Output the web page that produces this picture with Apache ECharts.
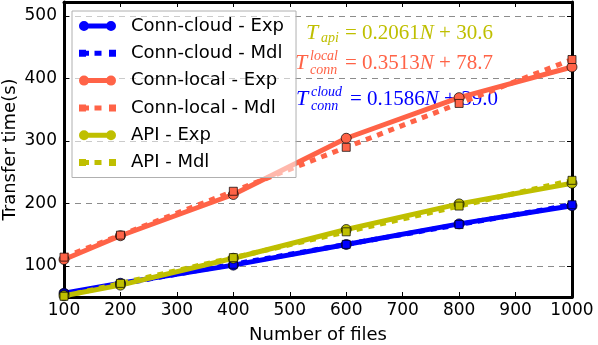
<!DOCTYPE html>
<html>
<head>
<meta charset="utf-8">
<script src="https://cdn.jsdelivr.net/npm/echarts@6/dist/echarts.min.js"></script>
<style>
html, body { margin: 0; padding: 0; background: #fff; }
#chart { width: 598px; height: 345px; }
</style>
</head>
<body>
<div id="chart"></div>
<script>
// number of files on the x axis
var files = [100, 200, 400, 600, 800, 1000];

// measured (Exp) and model (Mdl) transfer times, seconds
var cloudExp = [56, 72, 101, 134, 167, 196];
var cloudMdl = [54.9, 70.7, 102.4, 134.2, 165.9, 197.6];
var localExp = [110, 148, 214, 304, 369, 418];
var localMdl = [113.8, 149.0, 219.2, 289.5, 359.7, 430.0];
var apiExp = [52, 69, 112, 158, 199, 232];
var apiMdl = [51.2, 71.8, 113.0, 154.3, 195.5, 236.7];

// axis ranges
var xMin = 100, xMax = 1000, xStep = 100;
var yMin = 50, yMax = 522, yStep = 100;

var BLUE = '#0000ff';
var SALMON = '#ff6347';
var OLIVE = '#bfbf00';
var SANS = 'DejaVu Sans';
var SERIF = 'Liberation Serif';

// legend icons: line with two markers (plus a blank tail to push the text right)
var expIcon = 'path://M0,5A5,5 0 1,1 10,5A5,5 0 1,1 0,5Z' +
  'M27,5A5,5 0 1,1 37,5A5,5 0 1,1 27,5Z' +
  'M9,2.5L28,2.5L28,7.5L9,7.5Z M47,0L47,0 M0,10L0,10';
var mdlIcon = 'path://M0,1.5L7,1.5L7,8.5L0,8.5Z M7,2.5L10,2.5L10,7.5L7,7.5Z' +
  'M15.5,2.5L22.5,2.5L22.5,7.5L15.5,7.5Z M30,1.5L37,1.5L37,8.5L30,8.5Z' +
  'M47,0L47,0 M0,10L0,10';

function pairs(vals) {
  return files.map(function (f, i) { return [f, vals[i]]; });
}

function expSeries(name, color, vals) {
  return {
    name: name, type: 'line', data: pairs(vals),
    symbol: 'circle', symbolSize: 10,
    lineStyle: { color: color, width: 5 },
    itemStyle: { color: color, borderColor: 'rgba(0,0,0,0.7)', borderWidth: 1 },
    emphasis: { disabled: true },
    z: 3
  };
}

function mdlSeries(name, color, vals) {
  return {
    name: name, type: 'line', data: pairs(vals),
    symbol: 'rect', symbolSize: 8,
    lineStyle: { color: color, width: 5, type: [6, 6] },
    itemStyle: { color: color, borderColor: 'rgba(0,0,0,0.7)', borderWidth: 1 },
    emphasis: { disabled: true },
    z: 3
  };
}

function eqText(x, y, color, sup, sub, mainX, coef, cons) {
  var kids = [
    { type: 'text', x: 0, y: 0, style: { text: 'T', font: 'italic 22px "' + SERIF + '"', fill: color, verticalAlign: 'middle' } },
    { type: 'text', x: 15, y: sup ? 7 : 5.5, style: { text: sub, font: 'italic 14px "' + SERIF + '"', fill: color, verticalAlign: 'middle' } },
    { type: 'text', x: mainX, y: 0, style: {
      text: '= ' + coef + '{i|N} + ' + cons,
      font: '21px "' + SERIF + '"', fill: color, verticalAlign: 'middle',
      rich: { i: { fontStyle: 'italic', fontFamily: SERIF, fontSize: 21, fill: color } }
    } }
  ];
  if (sup) {
    kids.push({ type: 'text', x: 15, y: -7, style: { text: sup, font: 'italic 14px "' + SERIF + '"', fill: color, verticalAlign: 'middle' } });
  }
  return { type: 'group', x: x, y: y, z: 1, children: kids };
}

var chart = echarts.init(document.getElementById('chart'), null, { renderer: 'canvas' });

var axisLineStyle = { show: true, onZero: false, lineStyle: { color: '#000', width: 3 } };
var tickStyle = { show: true, inside: true, length: 5, lineStyle: { color: '#000', width: 1 } };
var labelStyle = { fontFamily: SANS, fontSize: 17, color: '#000', formatter: function (v) { return String(v); } };

var option = {
  animation: false,
  backgroundColor: '#fff',
  grid: { left: 64, right: 26, top: 2, bottom: 48, containLabel: false, outerBoundsMode: 'none' },
  legend: {
    orient: 'vertical', left: 72, top: 11,
    itemWidth: 47, itemHeight: 10, itemGap: 9.3,
    padding: [6, 12, 6, 7],
    backgroundColor: 'rgba(255,255,255,0.55)',
    borderColor: '#b0b0b0', borderWidth: 1, borderRadius: 0,
    itemStyle: { borderWidth: 0 },
    textStyle: { fontFamily: SANS, fontSize: 18, color: '#000', lineHeight: 18 },
    selectedMode: false,
    data: [
      { name: 'Conn-cloud - Exp', icon: expIcon },
      { name: 'Conn-cloud - Mdl', icon: mdlIcon },
      { name: 'Conn-local - Exp', icon: expIcon },
      { name: 'Conn-local - Mdl', icon: mdlIcon },
      { name: 'API - Exp', icon: expIcon },
      { name: 'API - Mdl', icon: mdlIcon }
    ]
  },
  xAxis: [{
    type: 'value', min: xMin, max: xMax, interval: xStep,
    axisLine: axisLineStyle, axisTick: tickStyle,
    axisLabel: Object.assign({ margin: 5 }, labelStyle),
    splitLine: { show: false },
    name: 'Number of files', nameLocation: 'middle', nameGap: 29, nameMoveOverlap: false,
    nameTextStyle: { fontFamily: SANS, fontSize: 18, color: '#000' }
  }, {
    type: 'value', position: 'top', min: xMin, max: xMax, interval: xStep,
    axisLine: axisLineStyle, axisTick: tickStyle,
    axisLabel: { show: false }, splitLine: { show: false }
  }],
  yAxis: [{
    type: 'value', min: yMin, max: yMax, minInterval: yStep, maxInterval: yStep,
    axisLine: axisLineStyle, axisTick: tickStyle,
    axisLabel: Object.assign({ margin: 7, showMinLabel: false, showMaxLabel: false }, labelStyle),
    splitLine: { show: true, lineStyle: { color: '#8c8c8c', width: 1.2, type: [6, 5] } },
    name: 'Transfer time(s)', nameLocation: 'middle', nameGap: 45, nameRotate: 90, nameMoveOverlap: false,
    nameTextStyle: { fontFamily: SANS, fontSize: 18, color: '#000' }
  }, {
    type: 'value', position: 'right', min: yMin, max: yMax, minInterval: yStep, maxInterval: yStep,
    axisLine: axisLineStyle, axisTick: tickStyle,
    axisLabel: { show: false }, splitLine: { show: false }
  }],
  series: [
    expSeries('Conn-cloud - Exp', BLUE, cloudExp),
    mdlSeries('Conn-cloud - Mdl', BLUE, cloudMdl),
    expSeries('Conn-local - Exp', SALMON, localExp),
    mdlSeries('Conn-local - Mdl', SALMON, localMdl),
    expSeries('API - Exp', OLIVE, apiExp),
    mdlSeries('API - Mdl', OLIVE, apiMdl)
  ],
  graphic: [
    eqText(306, 33, OLIVE, '', 'api', 39, '0.2061', '30.6'),
    eqText(295, 63, SALMON, 'local', 'conn', 50, '0.3513', '78.7'),
    eqText(296, 99, BLUE, 'cloud', 'conn', 54, '0.1586', '39.0')
  ]
};

chart.setOption(option);
</script>
</body>
</html>
